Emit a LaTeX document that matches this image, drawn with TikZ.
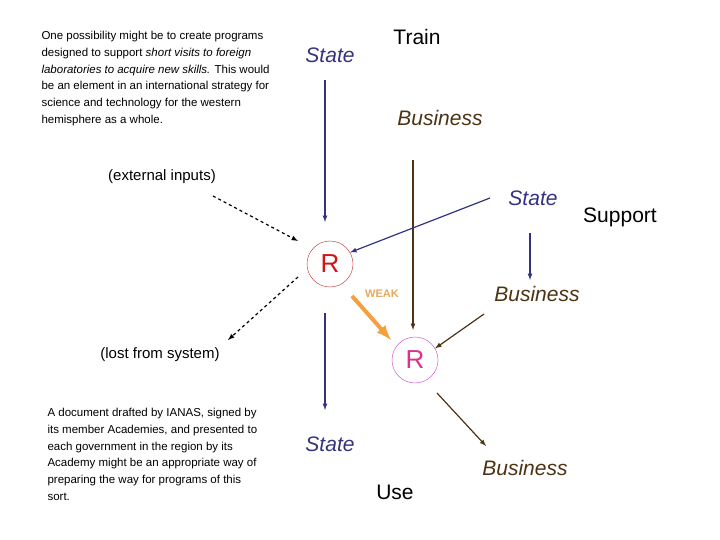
\documentclass[tikz,border=0pt]{standalone}
\usepackage{fontspec}
\setmainfont{Liberation Sans}
\hyphenpenalty=10000
\exhyphenpenalty=10000
\begin{document}
\begin{tikzpicture}[x=1pt,y=-1pt,
 bl/.style={color={rgb,255:red,51;green,51;blue,128}},
 br/.style={color={rgb,255:red,77;green,51;blue,20}},
 big/.style={font=\fontsize{21}{24}\selectfont},
 mid/.style={font=\fontsize{15}{18}\selectfont},
 small/.style={font=\fontsize{11.5}{16.7}\selectfont, align=flush left, text width=228pt},
 arr/.style={-latex, line width=1.2pt},
 dsh/.style={-latex, line width=1.2pt, dashed}]
\useasboundingbox (0,0) rectangle (720,540);
\node[small, anchor=north west] (t1) at (38,28) {One possibility might be to create programs designed to support \textit{short visits to foreign laboratories to acquire new skills.} This would be an element in an international strategy for science and technology for the western hemisphere as a whole.};
\node[small, anchor=north west, text width=214pt] (t2) at (44,405) {A document drafted by IANAS, signed by its member Academies, and presented to each government in the region by its Academy might be an appropriate way of preparing the way for programs of this sort.};
\node[big,bl] (s1) at (330,55) {\itshape State};
\node[big] (train) at (417,37) {Train};
\node[big,br] (b1) at (440,118) {\itshape Business};
\node[mid] (ext) at (162,177) {(external inputs)};
\node[big,bl] (s2) at (533,198) {\itshape State};
\node[big] (sup) at (620,217) {Support};
\node[big,br] (b2) at (537,294) {\itshape Business};
\node[mid] (lost) at (160,355) {(lost from system)};
\node[big,bl] (s3) at (330,444) {\itshape State};
\node[big] (use) at (395,492) {Use};
\node[big,br] (b3) at (525,468) {\itshape Business};
\node[draw={rgb,255:red,190;green,40;blue,40}, circle, minimum size=46pt, inner sep=0, text={rgb,255:red,210;green,20;blue,20}, font=\fontsize{26}{28}\selectfont] (r1) at (330,264) {R};
\node[draw={rgb,255:red,200;green,60;blue,200}, circle, minimum size=46pt, inner sep=0, text={rgb,255:red,220;green,50;blue,140}, font=\fontsize{26}{28}\selectfont] (r2) at (415,360) {R};
\node[font=\bfseries\fontsize{11}{12}\selectfont, text={rgb,255:red,230;green,170;blue,90}] (weak) at (382,294) {WEAK};
\coordinate (c1) at (325,80); \coordinate (c1e) at (325,222);
\draw[arr,bl] (c1) -- (c1e);
\coordinate (c2) at (413,160); \coordinate (c2e) at (413,330);
\draw[arr,br] (c2) -- (c2e);
\coordinate (c3) at (490,198);
\draw[arr,bl] (c3) -- (r1.30);
\coordinate (c4) at (530,233); \coordinate (c4e) at (530,280);
\draw[arr,bl] (c4) -- (c4e);
\coordinate (c5) at (484,314);
\draw[arr,br] (c5) -- (r2.30);
\coordinate (c6) at (352,296); \coordinate (c6e) at (391,340);
\draw[-latex, line width=4pt, color={rgb,255:red,245;green,160;blue,60}] (c6) -- (c6e);
\coordinate (c7) at (325,313); \coordinate (c7e) at (325,410);
\draw[arr,bl] (c7) -- (c7e);
\coordinate (c8) at (437,393); \coordinate (c8e) at (486,446);
\draw[arr,br] (c8) -- (c8e);
\coordinate (c9) at (213,196); \coordinate (c9e) at (298,241);
\draw[dsh] (c9) -- (c9e);
\coordinate (c10) at (298,277); \coordinate (c10e) at (228,340);
\draw[dsh] (c10) -- (c10e);
\end{tikzpicture}
\end{document}
